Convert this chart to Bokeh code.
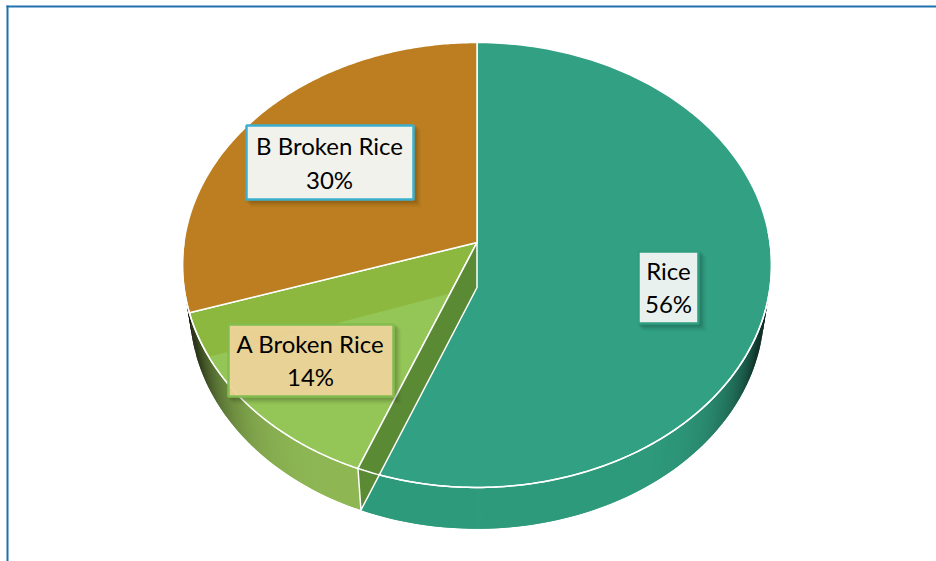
import numpy as np
from bokeh.core.properties import value
from bokeh.embed import file_html
from bokeh.models import Range1d
from bokeh.plotting import figure
from bokeh.resources import INLINE

# Chart data
categories = ["Rice", "A Broken Rice", "B Broken Rice"]
shares = [56, 14, 30]

# Styles
top_colors = ["#31A083", "#8DB83F", "#BC7E20"]
wall_colors = [(47, 155, 125), (143, 184, 85), (120, 110, 40)]
light_green = "#94C557"
cut_color = "#5B8A35"
label_fills = ["#E9F1EE", "#EFD59A", "#F2F2EC"]
label_alphas = [1.0, 0.95, 1.0]
label_borders = ["#2E9E7F", "#83BC4F", "#3BB0CE"]
border_color = "#1F72AE"

# Geometry of the perspective pie, in page pixels of the picture
CX, CY = 476.5, 242.0
RX, RY, K = 293.0, 220.2, 0.101
DEPTH, SX, SY = 45.0, 0.975, 0.985

# Label boxes: left, right, top, bottom, line centres
boxes = {
    "Rice": (638, 698, 251, 323, 668, 270, 303),
    "A Broken Rice": (228, 393, 324, 396, 310, 343, 376),
    "B Broken Rice": (246, 413, 125, 199, 329, 145, 179),
}

PAGE_X, PAGE_Y, W, H = 0, 0, 936, 561
p = figure(width=W, height=H, output_backend="svg", toolbar_location=None,
           x_range=Range1d(PAGE_X, PAGE_X + W), y_range=Range1d(PAGE_Y + H, PAGE_Y),
           min_border=0, margin=(0, 0, 0, 0), background_fill_color="white",
           border_fill_color="white", outline_line_color=None)
p.axis.visible = False
p.grid.visible = False


def project(theta, bottom=False):
    u, v = np.sin(theta), -np.cos(theta)
    den = 1 - K * v
    sx, sy, dy = (SX, SY, DEPTH) if bottom else (1.0, 1.0, 0.0)
    return CX + sx * RX * u / den, CY + dy + sy * RY * v / den


def clip_below(xs, ys, a, b):
    """Keep the part of a polygon on the lower side of the line a-b."""
    out = []
    n = len(xs)
    side = lambda x, y: (b[0] - a[0]) * (y - a[1]) - (b[1] - a[1]) * (x - a[0])
    for i in range(n):
        x0, y0, x1, y1 = xs[i], ys[i], xs[(i + 1) % n], ys[(i + 1) % n]
        s0, s1 = side(x0, y0), side(x1, y1)
        if s0 >= 0:
            out.append((x0, y0))
        if s0 * s1 < 0:
            t = s0 / (s0 - s1)
            out.append((x0 + t * (x1 - x0), y0 + t * (y1 - y0)))
    return [q[0] for q in out], [q[1] for q in out]


edges = np.cumsum([0] + shares) / sum(shares) * 2 * np.pi

# Outer walls: overlapping quads shaded darker toward the silhouette
for i in range(len(shares)):
    lo, hi = max(edges[i], np.pi / 2), min(edges[i + 1], 3 * np.pi / 2)
    if hi <= lo:
        continue
    steps = np.linspace(lo, hi, max(3, int((hi - lo) * 60)))
    pairs = list(zip(steps[:-2], steps[2:])) + [(steps[-2], steps[-1])]
    for a, b in pairs:
        tx0, ty0 = project(a)
        tx1, ty1 = project(b)
        bx0, by0 = project(a, True)
        bx1, by1 = project(b, True)
        t = min(1, abs((bx0 + bx1) / 2 - CX) / (RX * SX))
        shade = 1 - 0.85 * t ** 8
        col = tuple(int(c * shade) for c in wall_colors[i])
        hexcol = "#%02x%02x%02x" % col
        p.patch([tx0, tx1, bx1, bx0], [ty0, ty1, by1, by0], fill_color=hexcol,
                line_color=None)

# Top faces
green_pts = None
for i in range(len(shares)):
    th = np.linspace(edges[i], edges[i + 1], 200)
    xs, ys = project(th)
    xs = [CX] + list(xs)
    ys = [CY] + list(ys)
    p.patch(xs, ys, fill_color=top_colors[i], line_color="white", line_width=1.5,
            line_join="round")
    if i == 1:
        green_pts = (xs, ys)

# Lighter reflection on the small slice
lx, ly = clip_below(green_pts[0], green_pts[1], (213, 355), (450, 293))
p.patch(lx, ly, fill_color=light_green, line_color=None)

# Separator lines of that slice, back on top of the reflection
rx_, ry_ = project(edges[1])
p.line([CX, rx_], [CY, ry_], line_color="white", line_width=1.5)

# Cut face of the large slice, seen through the gap
bx_, by_ = project(edges[1], True)
p.patch([CX, rx_, bx_, CX], [CY, ry_, by_, CY + DEPTH], fill_color=cut_color,
        line_color="white", line_width=1.5, line_join="round")

# Rim line across the front
th = np.linspace(np.pi / 2 - 0.05, 3 * np.pi / 2, 400)
fx, fy = project(th)
p.line(fx, fy, line_color="white", line_width=1.5)

# Labels
for i, cat in enumerate(categories):
    l, r, t, b, xc, y1, y2 = boxes[cat]
    for off, alpha in ((8, 0.015), (7, 0.025), (6, 0.03), (5, 0.04), (4, 0.05), (3, 0.05)):
        p.quad(left=l + off - 3, right=r + off, top=t + off - 3, bottom=b + off,
               fill_color="black", fill_alpha=alpha, line_color=None)
    p.quad(left=l, right=r, top=t, bottom=b, fill_color=label_fills[i],
           fill_alpha=label_alphas[i], line_color=label_borders[i], line_width=2.5)
    p.text([xc, xc], [y1, y2], text=[cat, f"{shares[i]}%"], text_font=value("Lato"),
           text_font_size="24px", text_color="black", text_align="center",
           text_baseline="middle")

# Frame of the picture: only its top and left sides are in view
p.line([6, W], [6, 6], line_color=border_color, line_width=2)
p.line([7, 7], [5, H], line_color=border_color, line_width=2)

open("out.html", "w").write(file_html(p, INLINE))
